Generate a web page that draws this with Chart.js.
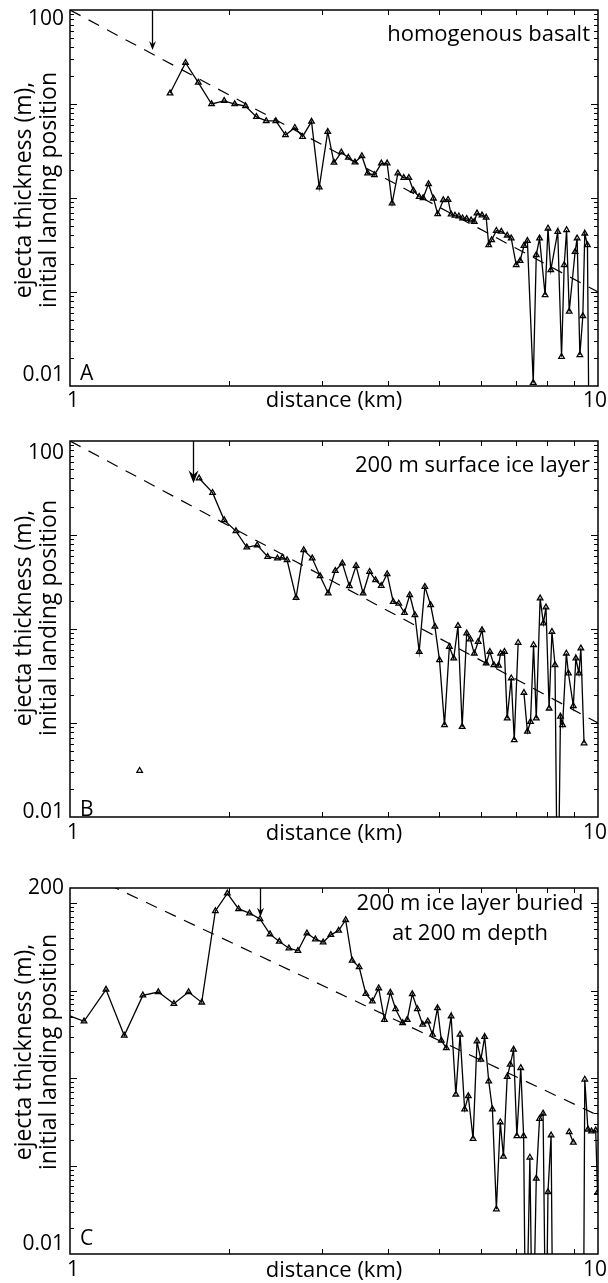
<!DOCTYPE html>
<html>
<head>
<meta charset="utf-8">
<title>Ejecta thickness vs distance</title>
<script src="https://cdn.jsdelivr.net/npm/chart.js@4.4.1/dist/chart.umd.min.js"></script>
<style>
  html, body { margin: 0; padding: 0; background: #fff; }
  body { position: relative; width: 608px; height: 1283px; overflow: hidden; }
  .panel { position: absolute; left: 0; width: 608px; }
  .panel canvas { display: block; }
</style>
</head>
<body>
<div class="panel" style="top:0px;height:420px"><canvas id="panelA" width="608" height="420"></canvas></div>
<div class="panel" style="top:420px;height:435px"><canvas id="panelB" width="608" height="435"></canvas></div>
<div class="panel" style="top:855px;height:428px"><canvas id="panelC" width="608" height="428"></canvas></div>
<script>
// ---------------- data ----------------
const X_TICKS = [1, 2, 3, 4, 5, 6, 7, 8, 9, 10];
const X_TICK_LABELS = ['\u20071', '10'];
const Y_TICKS_AB = [0.01,0.02,0.03,0.04,0.05,0.06,0.07,0.08,0.09,0.1,0.2,0.3,0.4,0.5,0.6,0.7,0.8,0.9,1,2,3,4,5,6,7,8,9,10,20,30,40,50,60,70,80,90,100];
const Y_TICKS_C  = [0.01,0.02,0.03,0.04,0.05,0.06,0.07,0.08,0.09,0.1,0.2,0.3,0.4,0.5,0.6,0.7,0.8,0.9,1,2,3,4,5,6,7,8,9,10,20,30,40,50,60,70,80,90,100];
const Y_LABELS_AB = ['0.01', '100'];
const Y_LABELS_C  = ['0.01', '200'];
const Y_RANGE_AB = [0.01, 100];
const Y_RANGE_C  = [0.01, 148];
const X_RANGE = [1, 10];

const X_TITLE = 'distance (km)';
const Y_TITLE = ['ejecta thickness (m),', 'initial landing position'];
const NOTES = [['homogenous basalt'], ['200 m surface ice layer'], ['200 m ice layer buried', 'at 200 m depth']];
const LETTERS = ['A', 'B', 'C'];

// panel A: homogenous basalt
const distA = [1.547,1.655,1.750,1.854,1.959,2.051,2.150,2.255,2.353,2.454,2.559,2.666,2.757,2.867,2.965,3.077,3.162,3.265,3.366,3.465,3.571,3.663,3.771,3.888,3.987,4.074,4.178,4.287,4.383,4.470,4.585,4.664,4.775,4.88,4.97,5.094,5.2,5.27,5.36,5.45,5.54,5.64,5.75,5.83,5.90,6.03,6.14,6.21,6.29,6.42,6.56,6.73,6.85,7.0,7.12,7.24,7.35,7.54,7.64,7.75,7.94,8.04,8.14,8.39,8.53,8.63,8.72,8.82,9.05,9.13,9.24,9.36,9.44,9.55,9.64];
const thickA = [13.0,27.5,16.9,10.0,10.8,10.0,9.5,7.3,6.6,6.6,4.68,5.6,4.49,6.5,1.30,5.07,2.38,3.06,2.69,2.40,2.80,1.83,1.76,2.34,2.34,0.878,1.83,1.64,1.64,1.2,1.03,1.0,1.41,0.99,0.676,0.95,0.96,0.67,0.65,0.64,0.61,0.60,0.58,0.56,0.687,0.655,0.62,0.316,0.357,0.449,0.44,0.40,0.372,0.194,0.215,0.31,0.35,0.0108,0.248,0.372,0.093,0.475,0.171,0.438,0.0205,0.194,0.457,0.062,0.268,0.372,0.0214,0.0556,0.42,0.316,0.0005];

// panel B: 200 m surface ice layer (null = gap)
const distB = [1.355,1.5,1.756,1.862,1.959,2.062,2.162,2.262,2.368,2.471,2.525,2.577,2.68,2.771,2.876,2.976,3.083,3.18,3.28,3.382,3.482,3.59,3.694,3.79,3.886,3.987,4.094,4.194,4.30,4.40,4.50,4.585,4.70,4.82,4.91,5.01,5.12,5.23,5.33,5.43,5.53,5.64,5.73,5.83,5.93,6.03,6.14,6.24,6.35,6.48,6.54,6.65,6.73,6.85,6.94,7.06,7.15,7.24,7.35,7.45,7.55,7.64,7.77,7.88,7.97,8.08,8.18,8.29,8.39,8.49,8.57,8.71,8.79,8.98,9.08,9.2,9.28,9.41];
const thickB = [0.0311,null,40.1,28.2,14.4,11.0,7.4,7.8,5.87,5.65,5.75,5.42,2.15,6.92,5.65,3.66,2.4,4.17,5.0,2.86,4.71,2.4,4.07,3.32,2.89,3.85,1.95,1.87,1.49,2.3,1.41,0.574,2.82,1.80,1.06,0.467,0.095,0.649,0.488,1.08,0.091,0.90,0.776,0.55,0.733,0.975,0.431,0.574,0.414,0.41,0.55,0.574,0.112,0.30,0.066,0.715,null,0.21,0.081,0.103,0.676,0.112,2.12,1.15,1.70,0.143,0.935,0.414,0.0005,0.117,0.095,0.55,0.338,0.152,0.488,0.338,0.624,0.061];

// panel C: 200 m ice layer buried at 200 m depth (null = gap)
const distC = [0.98,1.063,1.170,1.267,1.374,1.47,1.573,1.677,1.776,1.885,1.986,2.086,2.188,2.29,2.392,2.491,2.598,2.702,2.81,2.916,3.016,3.119,3.227,3.327,3.423,3.529,3.633,3.738,3.842,3.940,4.043,4.137,4.265,4.352,4.449,4.548,4.656,4.76,4.859,4.966,5.05,5.16,5.27,5.38,5.48,5.59,5.68,5.80,5.90,6.0,6.1,6.21,6.31,6.42,6.53,6.62,6.73,6.82,6.92,7.02,7.14,7.23,7.30,7.43,7.52,7.64,7.75,7.87,7.97,8.04,8.15,8.22,8.5,8.82,8.98,9.2,9.38,9.44,9.57,9.72,9.90,9.98];
const thickC = [5.4,4.48,10.3,3.08,8.85,9.66,7.1,9.66,7.36,81.1,128.8,85.5,76.4,65.8,44.1,36.3,30.5,28.5,45.2,38.6,35.7,43.3,48.4,64.1,22.1,18.6,9.25,7.56,10.7,4.67,9.55,6.2,4.3,4.67,9.17,6.2,4.11,4.48,3.16,6.35,2.7,2.23,5.1,0.658,3.16,0.445,0.63,0.206,2.66,1.64,2.98,0.93,0.445,0.0324,0.318,0.129,1.045,1.44,2.14,0.221,1.32,0.221,0.0005,0.126,0.0005,0.0724,0.348,0.40,0.0005,0.051,0.225,0.0005,null,0.245,0.186,null,0.0005,0.975,0.263,0.25,0.257,0.05];

// dashed reference power laws (end points at x = 1 and x = 10)
const REF_X = [1, 10];
const refA = [100, 0.1];
const refB = [100, 0.1];
const refC = [260, 0.38];

// arrows: distance and thickness at arrow tip
const ARROW_X   = [1.428, 1.712, 2.29];
const ARROW_TIP = [37.5, 35.5, 69.8];

// ---------------- drawing ----------------
const FONT = "'Open Sans', 'DejaVu Sans', sans-serif";

const decor = {
  id: 'decor',
  afterDatasetsDraw(chart, args, o) {
    const ctx = chart.ctx, a = chart.chartArea, xs = chart.scales.x, ys = chart.scales.y;
    ctx.save();
    ctx.strokeStyle = '#000';
    ctx.fillStyle = '#000';
    // tick marks (inside, all four sides)
    ctx.lineWidth = 1;
    ctx.beginPath();
    o.yTicks.forEach(v => {
      const py = Math.round(ys.getPixelForValue(v)) + 0.5;
      if (py <= a.top + 1 || py >= a.bottom - 1) return;
      const lg = Math.log10(v);
      const major = Math.abs(lg - Math.round(lg)) < 1e-9;
      const len = major ? 7 : 4;
      ctx.moveTo(a.left, py); ctx.lineTo(a.left + len, py);
      ctx.moveTo(a.right, py); ctx.lineTo(a.right - len, py);
    });
    X_TICKS.forEach(v => {
      const px = Math.round(xs.getPixelForValue(v)) + 0.5;
      if (px <= a.left + 1 || px >= a.right - 1) return;
      ctx.moveTo(px, a.bottom); ctx.lineTo(px, a.bottom - 5);
      ctx.moveTo(px, a.top); ctx.lineTo(px, a.top + 5);
    });
    ctx.stroke();
    // box
    ctx.lineWidth = 1.5;
    ctx.strokeRect(a.left, a.top, a.right - a.left, a.bottom - a.top);
    // arrow
    const ax = Math.round(xs.getPixelForValue(o.arrowX)) + 0.5;
    const tipY = ys.getPixelForValue(o.arrowTip);
    ctx.lineWidth = 1.3;
    ctx.beginPath();
    ctx.moveTo(ax, a.top);
    ctx.lineTo(ax, tipY - o.headH * 0.6);
    ctx.stroke();
    ctx.beginPath();
    ctx.moveTo(ax, tipY);
    ctx.lineTo(ax - o.headW / 2, tipY - o.headH);
    ctx.lineTo(ax, tipY - o.headH * 0.65);
    ctx.lineTo(ax + o.headW / 2, tipY - o.headH);
    ctx.closePath();
    ctx.fill();
    // panel note
    ctx.font = '22px ' + FONT;
    ctx.textBaseline = 'alphabetic';
    ctx.textAlign = o.noteAlign;
    o.note.forEach((t, i) => ctx.fillText(t, o.noteX, a.top + o.noteY + i * o.noteGap));
    // panel letter
    ctx.font = '21px ' + FONT;
    ctx.textAlign = 'left';
    ctx.fillText(o.letter, a.left + 10, a.bottom - o.letterLift);
    // y-axis title (two rotated lines)
    ctx.font = '23px ' + FONT;
    ctx.textAlign = 'center';
    ctx.translate(o.yTitleX, a.top + o.yTitleY);
    ctx.rotate(-Math.PI / 2);
    Y_TITLE.forEach((t, i) => ctx.fillText(t, 0, i * 25));
    ctx.restore();
  }
};

function makePanel(canvasId, dist, thick, ref, yRange, yTicks, yLabels, cfg) {
  const pts = dist.map((d, i) => ({ x: d, y: thick[i] }));
  const refPts = REF_X.map((d, i) => ({ x: d, y: ref[i] }));
  return new Chart(document.getElementById(canvasId), {
    type: 'line',
    data: {
      datasets: [
        {
          data: pts,
          borderColor: '#000',
          borderWidth: 1.3,
          pointStyle: 'triangle',
          pointRadius: 3.2,
          pointBorderWidth: 1.3,
          pointBorderColor: '#000',
          pointBackgroundColor: 'rgba(0,0,0,0)',
          spanGaps: false,
          tension: 0
        },
        {
          data: refPts,
          borderColor: '#000',
          borderWidth: 1.2,
          borderDash: [12, 9],
          pointRadius: 0,
          tension: 0
        }
      ]
    },
    options: {
      responsive: false,
      maintainAspectRatio: false,
      devicePixelRatio: 1,
      animation: false,
      events: [],
      layout: { padding: { top: cfg.padTop, right: 10, bottom: 0, left: 0 } },
      plugins: {
        legend: { display: false },
        tooltip: { enabled: false },
        decor: cfg.decor
      },
      scales: {
        x: {
          type: 'logarithmic',
          min: X_RANGE[0],
          max: X_RANGE[1],
          grid: { display: false, drawTicks: false },
          border: { display: false },
          afterBuildTicks: s => { s.ticks = [{ value: X_RANGE[0] }, { value: X_RANGE[1] }]; },
          afterFit: s => { s.height = cfg.xH; s.paddingLeft = 0; s.paddingRight = 0; },
          ticks: {
            autoSkip: false,
            maxRotation: 0,
            padding: cfg.xTickPad,
            labelOffset: -3,
            color: '#000',
            font: { family: FONT, size: 21 },
            callback: (v, i) => X_TICK_LABELS[i]
          },
          title: {
            display: true,
            text: X_TITLE,
            color: '#000',
            font: { family: FONT, size: 22 },
            padding: { top: 0, bottom: cfg.xTitlePad }
          }
        },
        y: {
          type: 'logarithmic',
          min: yRange[0],
          max: yRange[1],
          grid: { display: false, drawTicks: false },
          border: { display: false },
          afterBuildTicks: s => { s.ticks = [{ value: yRange[0] }, { value: yRange[1] }]; },
          afterFit: s => { s.width = 70; s.paddingTop = 0; s.paddingBottom = 0; },
          ticks: {
            autoSkip: false,
            padding: 6,
            color: '#000',
            font: ctx => ({
              family: FONT, size: 21,
              lineHeight: (ctx.index === 0 ? cfg.botShift : cfg.topShift) * 2 + 'px'
            }),
            callback: (v, i) => {
              if (i === 0) return cfg.botShift > 0 ? [yLabels[0], ''] : yLabels[0];
              return cfg.topShift > 0 ? ['', yLabels[1]] : yLabels[1];
            }
          }
        }
      }
    },
    plugins: [decor]
  });
}

makePanel('panelA', distA, thickA, refA, Y_RANGE_AB, Y_TICKS_AB, Y_LABELS_AB, {
  padTop: 10, xH: 34, xTickPad: 2.4, xTitlePad: 5.8, topShift: 9, botShift: 11,
  decor: { yTicks: Y_TICKS_AB, arrowX: ARROW_X[0], arrowTip: ARROW_TIP[0], headW: 7, headH: 9,
           note: NOTES[0], noteAlign: 'right', noteX: 590, noteY: 31, noteGap: 30,
           letter: LETTERS[0], letterLift: 6, yTitleX: 31, yTitleY: 180 }
});
makePanel('panelB', distB, thickB, refB, Y_RANGE_AB, Y_TICKS_AB, Y_LABELS_AB, {
  padTop: 21, xH: 38, xTickPad: 3.4, xTitlePad: 7.8, topShift: 12, botShift: 5,
  decor: { yTicks: Y_TICKS_AB, arrowX: ARROW_X[1], arrowTip: ARROW_TIP[1], headW: 10, headH: 13,
           note: NOTES[1], noteAlign: 'right', noteX: 590, noteY: 31, noteGap: 30,
           letter: LETTERS[1], letterLift: 1, yTitleX: 31, yTitleY: 177 }
});
makePanel('panelC', distC, thickC, refC, Y_RANGE_C, Y_TICKS_C, Y_LABELS_C, {
  padTop: 33, xH: 29, xTickPad: 3.4, xTitlePad: -1.2, topShift: 0, botShift: 10,
  decor: { yTicks: Y_TICKS_C, arrowX: ARROW_X[2], arrowTip: ARROW_TIP[2], headW: 7, headH: 9,
           note: NOTES[2], noteAlign: 'center', noteX: 470, noteY: 22, noteGap: 30,
           letter: LETTERS[2], letterLift: 9, yTitleX: 31, yTitleY: 164 }
});
</script>
</body>
</html>
